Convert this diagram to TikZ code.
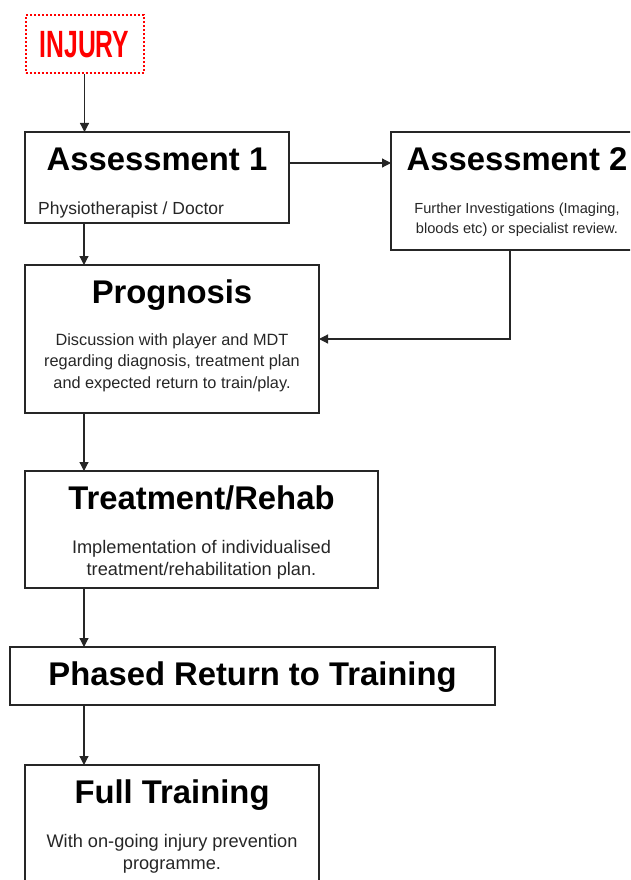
\documentclass[tikz,border=0pt]{standalone}
\usepackage{graphicx}
\usepackage{fontspec}
\setmainfont{Liberation Sans}
\usetikzlibrary{positioning,calc,arrows.meta}
\tikzset{stage/.style={draw=black!85, line width=1.2pt, anchor=north west, inner sep=0pt, outer sep=0pt}}
\tikzset{stagettl/.style={anchor=base, inner sep=0pt, font=\bfseries\fontsize{32.8}{34}\selectfont}}
\tikzset{stagetxt/.style={anchor=base, inner sep=0pt, align=center, font=\fontsize{18.2}{22}\selectfont, text=black!85}}
\tikzset{arr/.style={draw=black!85, line width=1.2pt, -{Triangle[length=9pt,width=9pt]}}}

\begin{document}
\begin{tikzpicture}[x=1pt,y=-1pt]
	\path[use as bounding box, clip] (0,0) rectangle (630,880);
	\node[draw=red, dash pattern=on 2pt off 2pt, line width=2pt, anchor=north west, inner sep=0pt,
		minimum width=118pt, minimum height=58pt] (inj) at (24.5,14.5)
		{\color{red}\scalebox{0.65}[1]{\bfseries\fontsize{38}{40}\selectfont INJURY}};
	%
	\node[stage, minimum width=264pt, minimum height=91pt] (a1) at (25,132) {};
	\node[stage, minimum width=252pt, minimum height=118pt] (a2) at (391,132) {};
	\node[stage, minimum width=294pt, minimum height=148pt] (prog) at (25,265) {};
	\node[stage, minimum width=353pt, minimum height=117pt] (treat) at (25,471) {};
	\node[stage, minimum width=485pt, minimum height=58pt] (phase) at (10,647) {};
	\node[stage, minimum width=294pt, minimum height=140pt] (full) at (25,765) {};
	%
	\node[stagettl] (a1t) at ([yshift=-38pt]a1.north) {Assessment 1};
	\node[stagetxt, anchor=base west, font=\fontsize{17.5}{20}\selectfont] (a1b)
		at ([xshift=13pt,yshift=-82pt]a1.north west) {Physiotherapist / Doctor};
	\node[stagettl] (a2t) at ([yshift=-38pt]a2.north) {Assessment 2};
	\node[stagetxt, font=\fontsize{14.6}{20}\selectfont] (a2b) at ([yshift=-101pt]a2.north)
		{Further Investigations (Imaging,\\ bloods etc) or specialist review.};
	\node[stagettl] (progt) at ([yshift=-38pt]prog.north) {Prognosis};
	\node[stagetxt, font=\fontsize{16.3}{21.5}\selectfont] (progb) at ([yshift=-123pt]prog.north)
		{Discussion with player and MDT\\ regarding diagnosis, treatment plan\\ and expected return to train/play.};
	\node[stagettl] (treatt) at ([yshift=-38pt]treat.north) {Treatment/Rehab};
	\node[stagetxt] (treatb) at ([yshift=-104pt]treat.north)
		{Implementation of individualised\\ treatment/rehabilitation plan.};
	\node[stagettl] (phaset) at ([yshift=-38pt]phase.north) {Phased Return to Training};
	\node[stagettl] (fullt) at ([yshift=-38pt]full.north) {Full Training};
	\node[stagetxt] (fullb) at ([yshift=-104pt]full.north)
		{With on-going injury prevention\\ programme.};
	%
	\draw[arr] (inj) -- (inj |- a1.north);
	\draw[arr] ([yshift=-31pt]a1.north east) -- ([yshift=-31pt]a2.north west);
	\draw[arr] ([xshift=59pt]a1.south west) -- ([xshift=59pt]prog.north west);
	\draw[arr] ([xshift=119pt]a2.south west) |- (prog.east);
	\draw[arr] ([xshift=59pt]prog.south west) -- ([xshift=59pt]treat.north west);
	\draw[arr] ([xshift=59pt]treat.south west) -- ([xshift=74pt]phase.north west);
	\draw[arr] ([xshift=74pt]phase.south west) -- ([xshift=59pt]full.north west);
\end{tikzpicture}
\end{document}
